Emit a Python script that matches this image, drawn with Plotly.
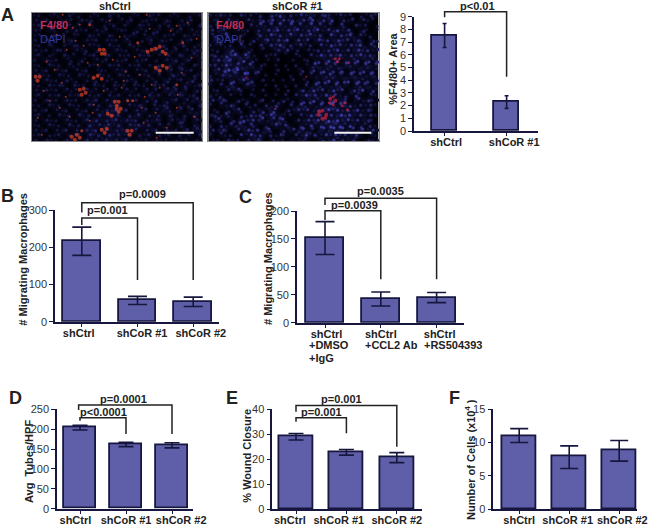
import plotly.graph_objects as go

W, H = 650, 526
FONT = "Liberation Sans"
BAR = "#5f5fa9"
EDGE = "#16163f"

# ---------- data ----------
labels_a = ["shCtrl", "shCoR #1"]
means_a = [7.5, 2.28]
upper_a = [8.47, 2.78]
lower_a = [6.58, 1.78]

labels_b = ["shCtrl", "shCoR #1", "shCoR #2"]
means_b = [217, 57, 54]
upper_b = [254, 68, 66]
lower_b = [178, 46, 41]

labels_c = ["shCtrl", "shCtrl", "shCtrl"]
extras_c = ["+DMSO", "+IgG", "+CCL2 Ab", "+RS504393"]
means_c = [152, 43, 45]
upper_c = [181, 55, 54]
lower_c = [122, 30, 36]

labels_d = ["shCtrl", "shCoR #1", "shCoR #2"]
means_d = [205, 162, 160]
upper_d = [210, 167, 166]
lower_d = [198, 156, 153]

labels_e = ["shCtrl", "shCoR #1", "shCoR #2"]
means_e = [29, 22.8, 20.7]
upper_e = [30.3, 23.9, 22.6]
lower_e = [27.7, 21.6, 18.6]

labels_f = ["shCtrl", "shCoR #1", "shCoR #2"]
means_f = [11, 7.9, 8.8]
upper_f = [12.1, 9.5, 10.3]
lower_f = [10, 6.1, 7.2]

dapi_1 = [
    "1201210312012103120121031201210212",
    "2131021203130212021301212031021301",
    "1302130212031021302103120213021203",
    "2103102131202130121031203102130212",
    "1210312021031203102130213021203121",
    "2031201310213021203102130312021302",
    "1203102132021203120312012130213021",
    "2120321021302120312021304131302132",
    "1302103120213013021203130213042131",
    "2031201203102130213021302031403203",
    "1203120312021203130213021303132031",
    "2130213021301210213021304213041302",
    "1312031203120312031202130302413031",
    "2031203120213021203130213042130421",
    "1203132031203120312031203130304213",
    "2131203120312031203120313042413031",
    "1302130213021303130213041303142130",
    "2031203120314031403130314031403142",
    "1203120312041304240314203142031303",
    "2130213021303142514031403142130413",
    "1302031304130515240415031304203141",
    "2031203120415142514240314203142031",
    "1203120413051425150425140313042031",
    "2130214031425051425140314031304142",
    "1302130314052415241503140314031303",
    "2031203120413141314031203120312031",
]
dapi_2 = [
    "2131203121304251314251342131202132",
    "1203120312425142514251425031303120",
    "2130312031514251524152413042031201",
    "3142031203142514251425142514203102",
    "2315202102415241514251405142513120",
    "1420312031251425041405241524152031",
    "2131204120314251314130415241425142",
    "1203420310201324120213142514152413",
    "2315362521021201021031524251425241",
    "1426415231010200101204152514251524",
    "2315254150210101020125142415241514",
    "1426362514100201013041524250415241",
    "2135241603010100102031425141524152",
    "3120415240201010201204152415152414",
    "2031520431010201020315241524052413",
    "1203142010200102014152415240425141",
    "2130201021010102031524152413142031",
    "3142031201302031204152416153041421",
    "2031420312031420315241526252413131",
    "1203142031415203142415263524251420",
    "2314203142415241203152514263514131",
    "1420315242514251031425263625241420",
    "2031425142031524204152536362514231",
    "3142031524152031425231526352425141",
    "2031204152413142031524152524152031",
    "1203120315203120415201415241420312",
]

# Red (F4/80) spots, image pixels from the top-left of each micrograph
red_x_1 = [68, 72, 70, 73, 116, 120, 124, 128, 131, 134, 131, 135, 124, 128, 48, 52, 54, 50,
           62, 66, 70, 4, 8, 6, 83, 87, 85, 85, 89, 87, 76, 80, 70, 75, 73, 40, 45, 43, 48, 96, 100, 98,
           106, 58, 48, 94, 145, 151, 145, 35, 15, 38, 113, 96, 101, 6, 41, 115,
           31, 66, 145, 135, 61, 110, 23, 81, 50, 128, 12, 90, 160, 150,
           25, 44, 52, 78, 88, 103, 118, 139, 156, 165, 18, 30, 62, 92, 108, 124, 146, 163,
           10, 28, 56, 72, 112, 120, 155, 34, 58, 125]
red_y_1 = [37, 37, 41, 41, 39, 37, 36, 34, 39, 41, 53, 55, 55, 58, 77, 76, 80, 82,
           65, 63, 66, 64, 64, 68, 89, 89, 93, 96, 96, 99, 101, 103, 117, 116, 120, 124, 122, 127, 125, 118, 118, 122,
           30, 12, 12, 59, 72, 30, 13, 37, 49, 104, 84, 88, 88, 105, 15, 2,
           2, 52, 95, 115, 100, 95, 57, 47, 118, 75, 78, 75, 45, 60,
           22, 28, 33, 8, 24, 44, 16, 18, 10, 26, 88, 70, 92, 68, 62, 100, 82, 104,
           122, 95, 50, 78, 110, 72, 120, 84, 108, 125]
red_s_1 = [4] * 42 + [3, 3, 2, 2, 3, 3, 2, 2, 2, 2, 2, 3, 3, 2, 2, 2,
                       2, 2, 2, 2, 2, 2, 2, 2, 3, 2, 2, 2, 2, 2] + [2] * 28
red_x_2 = [127, 131, 129, 122, 127, 125, 121, 125, 110, 118, 114, 114, 111, 117, 134, 139, 137, 67, 38, 98, 140]
red_y_2 = [46, 46, 49, 86, 88, 92, 90, 84, 102, 102, 98, 106, 99, 105, 93, 97, 90, 96, 65, 64, 50]
red_s_2 = [3, 3, 3, 4, 4, 3, 3, 3, 4, 4, 4, 4, 4, 4, 3, 3, 3, 2, 2, 2, 2]

p_labels = {"a": ["p<0.01"], "b": ["p=0.001", "p=0.0009"], "c": ["p=0.0039", "p=0.0035"],
            "d": ["p<0.0001", "p=0.0001"], "e": ["p=0.001", "p=0.001"]}

# ---------- page geometry (pixels) ----------
def px_x(v):
    return v / W
def px_y(v):
    return 1 - v / H

fig = go.Figure()
ann = []
shapes = []

def nb(text, shift):
    n = round(abs(shift) / 1.53)
    pad = "\u00a0" * n
    return pad + text if shift > 0 else text + pad

def panel(i, labels, means, upper, lower, left, right, y0, ytop, c0, step, barw, ymax, dtick,
          cap, shifts, brackets, tickcol="#333333", tickfs=11):
    xn, yn = ("x", "y") if i == 1 else (f"x{i}", f"y{i}")
    idx = list(range(len(labels)))
    fig.add_trace(go.Bar(
        x=idx, y=means, xaxis=xn, yaxis=yn, width=barw / step,
        marker=dict(color=BAR, line=dict(color=EDGE, width=1.8)),
        error_y=dict(type="data", symmetric=False,
                     array=[u - m for u, m in zip(upper, means)],
                     arrayminus=[m - l for m, l in zip(means, lower)],
                     color=EDGE, thickness=1.6, width=cap),
        showlegend=False, cliponaxis=False))
    # significance brackets: (bar a, bar b, top, left-leg end, right-leg end) in axis units
    to_x = lambda v: px_x(c0 + v * step)
    to_y = lambda v: px_y(y0 - v * (y0 - ytop) / ymax)
    for a, b, top, l1, l2 in brackets:
        path = f"M {to_x(a)} {to_y(l1)} L {to_x(a)} {to_y(top)} L {to_x(b)} {to_y(top)} L {to_x(b)} {to_y(l2)}"
        shapes.append(dict(type="path", path=path, xref="paper", yref="paper",
                           line=dict(color="#222222", width=1.5), layer="above"))
    layout_x = dict(domain=[px_x(left), px_x(right)], anchor=yn,
                    range=[(left - c0) / step, (right - c0) / step],
                    tickmode="array", tickvals=idx,
                    ticktext=[nb(t, s) for t, s in zip(labels, shifts)],
                    tickfont=dict(family=FONT, size=11, color="#222222", weight="bold"),
                    ticklabelstandoff=-3,
                    showline=True, linecolor=EDGE, linewidth=1.6, ticks="outside", ticklen=3,
                    tickcolor=EDGE, tickwidth=1.4, showgrid=False, zeroline=False, tickangle=0)
    layout_y = dict(domain=[px_y(y0), px_y(ytop)], anchor=xn, range=[0, ymax], dtick=dtick,
                    tickfont=dict(family=FONT, size=tickfs, color=tickcol),
                    showline=True, linecolor=EDGE, linewidth=1.6, ticks="outside", ticklen=4,
                    tickcolor=EDGE, tickwidth=1.4, showgrid=False, zeroline=False)
    sfx = "" if i == 1 else str(i)
    fig.update_layout(**{f"xaxis{sfx}": layout_x, f"yaxis{sfx}": layout_y})

panel(1, labels_a, means_a, upper_a, lower_a, 414, 538, 131, 16.7, 444.6, 62, 25, 9, 1, 2,
      [1, 7.5], [(0, 1, 9.39, 8.95, 4.27)])
panel(2, labels_b, means_b, upper_b, lower_b, 55, 219, 321.7, 210, 81.8, 55.7, 37.5, 300, 100, 9.5,
      [-3, 4, 7], [(0, 2, 319.6, 293, 112), (0, 1, 278.5, 260, 112)])
panel(3, labels_c, means_c, upper_c, lower_c, 297, 464, 322.7, 211, 325, 55.8, 37.8, 200, 50, 9.5,
      [1, 0, 2.5], [(0, 2, 222.7, 210.7, 77.7), (0, 1, 200.5, 184, 77.7)])
panel(4, labels_d, means_d, upper_d, lower_d, 57, 193, 508.7, 409.3, 80, 46, 31.5, 250, 50, 7.5,
      [-4, 0, 9.5], [(-0.03, 2, 260.8, 248, 188), (0, 1, 229, 221, 188)])
panel(5, labels_e, means_e, upper_e, lower_e, 272.3, 421.7, 509, 409.3, 296, 50.4, 34, 40, 10, 7.5,
      [-6, -7.5, 0], [(0, 2, 41.5, 39, 25), (0, 1, 36.6, 35, 30.4)])
panel(6, labels_f, means_f, upper_f, lower_f, 493.3, 637, 509, 409.3, 519.2, 50, 33.7, 15, 5, 9,
      [0, -1, 3], [])

# ---------- micrographs ----------
SCALE = [[0, "#000004"], [0.5, "#0b0b2a"], [1, "#1a1a54"]]

def micro(i, grid, rx, ry, rs, rcol, left, right, top, bottom, bar_x, lab_col, cmax):
    sfx = str(i)
    iw, ih = right - left, bottom - top
    z = [[int(c) for c in row] for row in grid]
    fig.add_trace(go.Heatmap(z=z, x0=2.5, dx=5, y0=2.5, dy=5, xaxis=f"x{i}", yaxis=f"y{i}",
                             colorscale=SCALE, zmin=0, zmax=7, showscale=False, zsmooth="best",
                             hoverinfo="skip"))
    # one nucleus per bright cell of the grid, nudged towards its brighter neighbours
    bx, by, bc = [], [], []
    nr, nc = len(z), len(z[0])
    for r, row in enumerate(z):
        for c, v in enumerate(row):
            if v >= 1:
                dx = row[(c + 1) % nc] - row[c - 1]
                dy = z[(r + 1) % nr][c] - z[r - 1][c]
                bx.append(2.5 + 5 * c + (2.5 if r % 2 else 0) + 0.6 * dx)
                by.append(2.5 + 5 * r + 0.6 * dy)
                bc.append(v)
    fig.add_trace(go.Scatter(x=bx, y=by, xaxis=f"x{i}", yaxis=f"y{i}", mode="markers",
                             marker=dict(color=bc, cmin=0, cmax=cmax, size=3.2, line=dict(width=0),
                                         colorscale=[[0, "#08081f"], [0.5, "#20205e"], [1, "#3a3a9c"]],
                                         showscale=False),
                             showlegend=False, hoverinfo="skip"))
    fig.add_trace(go.Scatter(x=rx, y=ry, xaxis=f"x{i}", yaxis=f"y{i}", mode="markers",
                             marker=dict(color=rcol, size=rs, opacity=0.75, line=dict(width=0)),
                             showlegend=False, hoverinfo="skip"))
    fig.add_trace(go.Scatter(x=bar_x, y=[120, 120], xaxis=f"x{i}", yaxis=f"y{i}", mode="lines",
                             line=dict(color="#f2f2f2", width=2), showlegend=False, hoverinfo="skip"))
    fig.update_layout(**{
        f"xaxis{sfx}": dict(domain=[px_x(left), px_x(right)], anchor=f"y{i}", range=[0, iw],
                            visible=True, showticklabels=False, ticks="", showgrid=False, zeroline=False,
                            showline=True, mirror=True, linecolor="#888888", linewidth=1),
        f"yaxis{sfx}": dict(domain=[px_y(bottom), px_y(top)], anchor=f"x{i}", range=[ih, 0],
                            visible=True, showticklabels=False, ticks="", showgrid=False, zeroline=False,
                            showline=True, mirror=True, linecolor="#888888", linewidth=1),
    })
    ann.append(dict(text="F4/80", x=6, y=12, xref=f"x{i}", yref=f"y{i}", xanchor="left", yanchor="middle",
                    showarrow=False, font=dict(family=FONT, size=11, color=lab_col, weight="bold")))
    ann.append(dict(text="DAPI", x=6, y=26, xref=f"x{i}", yref=f"y{i}", xanchor="left", yanchor="middle",
                    showarrow=False, font=dict(family=FONT, size=11, color="#34389a")))

micro(7, dapi_1, red_x_1, red_y_1, red_s_1, "#cf3f24", 31.7, 202.3, 12.7, 141.3, [124, 162], "#c0305f", 9)
micro(8, dapi_2, red_x_2, red_y_2, red_s_2, "#b8233f", 208.3, 379, 12.7, 141.3, [126, 163], "#c02f52", 6)

# ---------- free text ----------
def text(s, x, y, size=11, bold=True, angle=0, color="#222222", anchor="center"):
    f = dict(family=FONT, size=size, color=color)
    if bold:
        f["weight"] = "bold"
    ann.append(dict(text=s, x=px_x(x), y=px_y(y), xref="paper", yref="paper", xanchor=anchor,
                    yanchor="middle", showarrow=False, font=f, textangle=angle))

text("A", 7, 15, 18)
text("B", 7, 196, 18)
text("C", 245, 197, 18)
text("D", 15, 398, 18)
text("E", 232, 398, 18)
text("F", 454, 398, 18)
text("shCtrl", 115, 6)
text("shCoR #1", 297, 6)
text(p_labels["a"][0], 477.7, 6)
text(p_labels["b"][0], 107, 210)
text(p_labels["b"][1], 142.7, 194)
text(p_labels["c"][0], 354, 205)
text(p_labels["c"][1], 380, 190.7)
text(p_labels["d"][0], 103, 412)
text(p_labels["d"][1], 123, 399)
text(p_labels["e"][0], 321, 412)
text(p_labels["e"][1], 341.7, 399)
text("%F4/80+ Area", 392.7, 69, angle=-90)
text("# Migrating Macrophages", 22.7, 259, angle=-90)
text("# Migrating Macrophages", 268, 259, angle=-90)
text("Avg  Tubes/HPF", 29, 461, angle=-90)
text("% Wound Closure", 246.7, 456, angle=-90)
text("Number of Cells (x10<sup>4</sup> )", 470, 460, angle=-90)
for s, x, y in zip(extras_c, [306.7, 306.7, 362.7, 422], [345, 358, 345, 345]):
    text(s, x, y, anchor="left")

fig.update_layout(width=W, height=H, margin=dict(l=0, r=0, t=0, b=0, pad=0, autoexpand=False), autosize=False,
                  paper_bgcolor="white", plot_bgcolor="white", showlegend=False,
                  annotations=ann, shapes=shapes, bargap=0)
fig.write_html("out.html", config=dict(displayModeBar=False),
               post_script="document.body.style.margin='0';document.documentElement.style.overflow='hidden';")
